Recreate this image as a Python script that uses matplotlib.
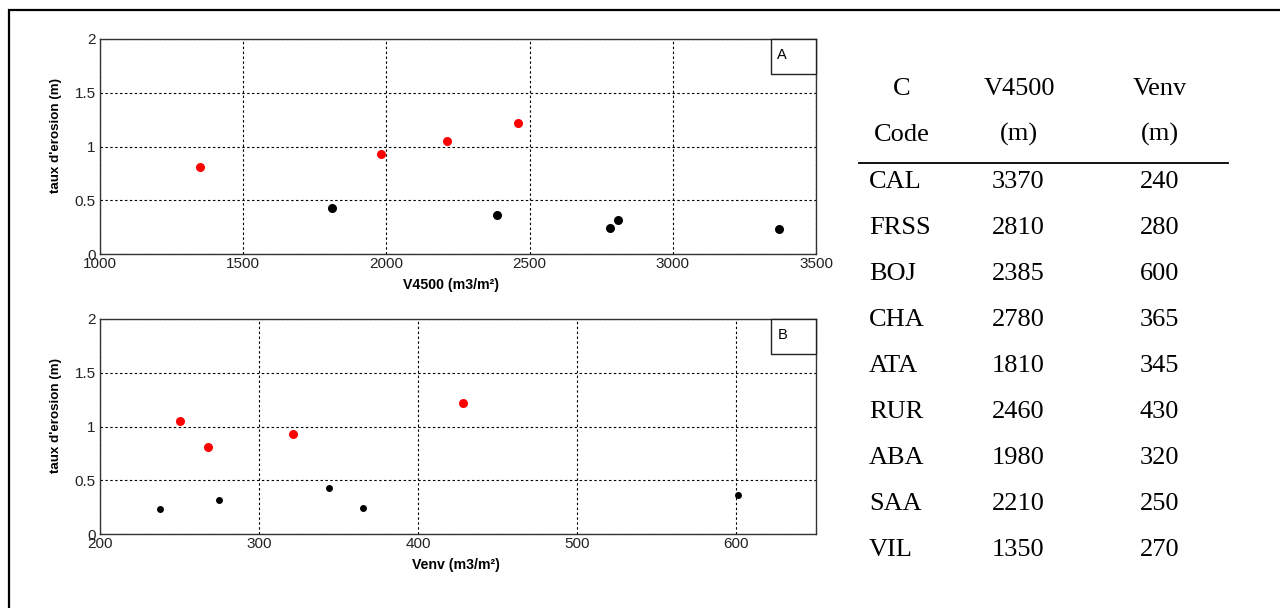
import matplotlib
matplotlib.use("Agg")
import matplotlib.pyplot as plt
from matplotlib.patches import Rectangle
from matplotlib.lines import Line2D

# ---- data ----
codes = ["CAL", "FRSS", "BOJ", "CHA", "ATA", "RUR", "ABA", "SAA", "VIL"]
v4500 = [3370, 2810, 2385, 2780, 1810, 2460, 1980, 2210, 1350]
venv = [240, 280, 600, 365, 345, 430, 320, 250, 270]
venv_plot = [238, 275, 601, 365, 344, 428, 321, 250, 268]
erosion = [0.235, 0.32, 0.365, 0.24, 0.43, 1.22, 0.93, 1.05, 0.81]
is_red = [False, False, False, False, False, True, True, True, True]

x_ticks_a = [1000, 1500, 2000, 2500, 3000, 3500]
x_ticks_b = [200, 300, 400, 500, 600]
y_ticks = [0, 0.5, 1, 1.5, 2]
y_tick_labels = ["0", "0.5", "1", "1.5", "2"]

header1 = ["C", "V4500", "Venv"]
header2 = ["Code", "(m)", "(m)"]

W, H = 1280, 608
fig = plt.figure(figsize=(W / 100, H / 100), dpi=100)
fig.patch.set_facecolor("white")

SANS = "Liberation Sans"
SERIF = "Liberation Serif"


def fx(px):
    return px / W


def fy(py):
    return 1 - py / H


def style_axes(ax, xlim, xticks, xlabel, xlabel_x, tag):
    ax.set_xlim(*xlim)
    ax.set_ylim(0, 2)
    ax.set_xticks(xticks)
    ax.set_xticklabels([str(t) for t in xticks], fontsize=11, family=SANS, color="#222222")
    ax.set_yticks(y_ticks)
    ax.set_yticklabels(y_tick_labels, fontsize=11, family=SANS, color="#222222")
    ax.tick_params(length=0, pad=2.0)
    ax.tick_params(axis="y", pad=3.0)
    ax.grid(True, color="black", linestyle=(0, (2.2, 2.2)), linewidth=0.8)
    ax.set_axisbelow(True)
    for s in ax.spines.values():
        s.set_color("#333333")
        s.set_linewidth(1.0)
    ax.set_xlabel(xlabel, fontsize=10.2, fontweight="bold", family=SANS)
    ax.xaxis.set_label_coords(xlabel_x, -0.11)
    ax.xaxis.label.set_va("top")
    ax.set_ylabel("taux d'erosion (m)", fontsize=9.6, fontweight="bold", family=SANS)
    ax.yaxis.set_label_coords(-0.053, 0.55)
    ax.add_patch(Rectangle((0.937, 0.835), 0.063, 0.165, transform=ax.transAxes,
                           fill=True, facecolor="white", edgecolor="#222222", lw=1.0, zorder=5,
                           clip_on=False))
    ax.text(0.946, 0.905, tag, transform=ax.transAxes, fontsize=10.5, family=SANS,
            va="baseline", ha="left", zorder=6)


# ---- panel A ----
axA = fig.add_axes([fx(100), fy(254), fx(716), 215 / H])
style_axes(axA, (1000, 3500), x_ticks_a, "V4500 (m3/m²)", 0.49, "A")
for x, y, r in zip(v4500, erosion, is_red):
    axA.plot(x, y, "o", color="red" if r else "black", markersize=6.5,
             markeredgewidth=0, zorder=4)

# ---- panel B ----
axB = fig.add_axes([fx(100), fy(534), fx(716), 215 / H])
style_axes(axB, (200, 650), x_ticks_b, "Venv (m3/m²)", 0.497, "B")
for x, y, r in zip(venv_plot, erosion, is_red):
    axB.plot(x, y, "o", color="red" if r else "black",
             markersize=6.5 if r else 5.0, markeredgewidth=0, zorder=4)

# ---- table C ----
col_center = [902, 1019, 1160]
for c, h1, h2 in zip(col_center, header1, header2):
    fig.text(fx(c), fy(95), h1, ha="center", va="baseline", fontsize=19, family=SERIF)
    fig.text(fx(c), fy(141), h2, ha="center", va="baseline", fontsize=19, family=SERIF)

fig.add_artist(Line2D([fx(859), fx(1228)], [fy(162.7), fy(162.7)], color="black", lw=1.3))

col_left = [869, 992, 1140]
for i, (code, a, b) in enumerate(zip(codes, v4500, venv)):
    yb = 188.3 + 46 * i
    fig.text(fx(col_left[0]), fy(yb), code, ha="left", va="baseline", fontsize=19, family=SERIF)
    fig.text(fx(col_left[1]), fy(yb), str(a), ha="left", va="baseline", fontsize=19, family=SERIF)
    fig.text(fx(col_left[2]), fy(yb), str(b), ha="left", va="baseline", fontsize=19, family=SERIF)

# ---- outer frame (top and left edges) ----
fig.add_artist(Line2D([fx(9.2), fx(9.2), fx(1280)], [fy(608), fy(9.5), fy(9.5)],
                      color="black", lw=1.6, solid_joinstyle="miter"))

fig.savefig("out.png", dpi=100, facecolor="white")
